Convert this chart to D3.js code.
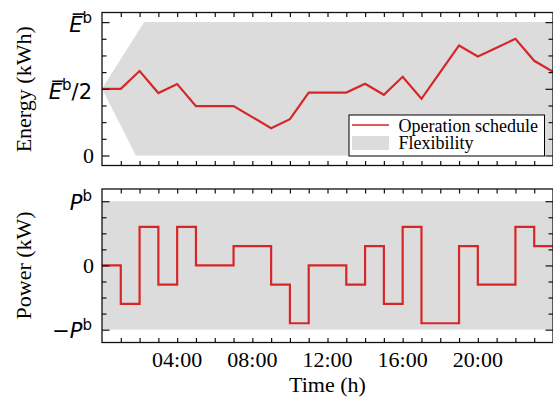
<!DOCTYPE html>
<html>
<head>
<meta charset="utf-8">
<script src="https://cdn.jsdelivr.net/npm/d3@7/dist/d3.min.js"></script>
<style>
  html, body { margin: 0; padding: 0; background: #fff; }
  svg { display: block; }
  .serif { font-family: "Liberation Serif", "Times New Roman", serif; }
  .math { font-family: "DejaVu Sans", sans-serif; }
</style>
</head>
<body>
<svg id="chart" width="553" height="401"></svg>
<script>
// Hourly time grid (h)
const hours = d3.range(0, 25);

// State of energy, as a fraction of the battery capacity E^b, at each hour
const energy = [0.5, 0.5, 0.633, 0.468, 0.535, 0.37, 0.37, 0.37, 0.288, 0.205,
                0.272, 0.472, 0.472, 0.472, 0.538, 0.455, 0.59, 0.425, 0.625, 0.825,
                0.742, 0.808, 0.875, 0.71, 0.628];

// Charging power, as a fraction of the rated power P^b, held over each hour
const power = [0, -0.6, 0.6, -0.3, 0.6, 0, 0, 0.3, 0.3, -0.3,
               -0.9, 0, 0, -0.3, 0.3, -0.6, 0.6, -0.9, -0.9, 0.3,
               -0.3, -0.3, 0.6, 0.3];

// Reachable energy envelope (upper and lower bounds) starting from half charge
const flexUpperT = [0, 2.25, 24];
const flexUpperE = [0.5, 1, 1];
const flexLowerT = [0, 1.8, 24];
const flexLowerE = [0.5, 0, 0];

// Power envelope
const powerBand = [-1, 1];

// Tick labels
const xTickHours = [4, 8, 12, 16, 20];
const xTickLabels = ["04:00", "08:00", "12:00", "16:00", "20:00"];

const RED = "#d62728";
const GREY = "#dcdcdc";

const svg = d3.select("#chart");

const left = 102, right = 553;
const topP = { y0: 12.5, y1: 165.5 };
const botP = { y0: 189, y1: 342.5 };

const x = d3.scaleLinear().domain([0, 24]).range([left, right]);
const yE = d3.scaleLinear().domain([-0.075, 1.072]).range([topP.y1, topP.y0]);
const yP = d3.scaleLinear().domain([-1.2, 1.19]).range([botP.y1, botP.y0]);

// ---------- Energy panel ----------
const gE = svg.append("g");

// flexibility polygon: upper bound left to right, then lower bound right to left
const flexPoly = flexUpperT.map((t, i) => [x(t), yE(flexUpperE[i])])
  .concat(flexLowerT.map((t, i) => [x(t), yE(flexLowerE[i])]).reverse());
gE.append("path")
  .attr("d", "M" + flexPoly.map(p => p.join(",")).join("L") + "Z")
  .attr("fill", GREY);

gE.append("path")
  .datum(hours)
  .attr("fill", "none")
  .attr("stroke", RED)
  .attr("stroke-width", 2.2)
  .attr("stroke-linejoin", "miter")
  .attr("d", d3.line().x(h => x(h)).y(h => yE(energy[h])));

// ---------- Power panel ----------
const gP = svg.append("g");

gP.append("rect")
  .attr("x", x(0)).attr("width", x(24) - x(0))
  .attr("y", yP(powerBand[1])).attr("height", yP(powerBand[0]) - yP(powerBand[1]))
  .attr("fill", GREY);

gP.append("path")
  .datum(hours)
  .attr("fill", "none")
  .attr("stroke", RED)
  .attr("stroke-width", 2.2)
  .attr("d", d3.line().curve(d3.curveStepAfter)
    .x(h => x(h)).y(h => yP(power[Math.min(h, power.length - 1)])));

// ---------- Frames and ticks ----------
function frame(y0, y1, yScale, majorVals, minorVals) {
  const g = svg.append("g");
  const xAxisTop = d3.axisTop(x).tickValues(hours.slice(1, 24)).tickSize(-4.5).tickFormat("");
  const xAxisBot = d3.axisBottom(x).tickValues(hours.slice(1, 24)).tickSize(-4.5).tickFormat("");
  g.append("g").attr("transform", `translate(0,${y0})`).call(xAxisTop);
  g.append("g").attr("transform", `translate(0,${y1})`).call(xAxisBot);
  g.append("g").attr("transform", `translate(${left},0)`)
    .call(d3.axisLeft(yScale).tickValues(minorVals).tickSize(-4.5).tickFormat(""));
  g.append("g").attr("transform", `translate(${left},0)`)
    .call(d3.axisLeft(yScale).tickValues(majorVals).tickSize(-7.5).tickFormat(""));
  g.append("g").attr("transform", `translate(${right},0)`)
    .call(d3.axisRight(yScale).tickValues(minorVals).tickSize(-4.5).tickFormat(""));
  g.append("g").attr("transform", `translate(${right},0)`)
    .call(d3.axisRight(yScale).tickValues(majorVals).tickSize(-7.5).tickFormat(""));
  g.selectAll(".domain").remove();
  g.selectAll(".tick line").attr("stroke", "#111").attr("stroke-width", 1.2);
  g.append("rect")
    .attr("x", left).attr("y", y0).attr("width", right - left).attr("height", y1 - y0)
    .attr("fill", "none").attr("stroke", "#111").attr("stroke-width", 1.3);
}

frame(topP.y0, topP.y1, yE, [0, 0.5, 1], [0.125, 0.25, 0.375, 0.625, 0.75, 0.875]);
frame(botP.y0, botP.y1, yP, [-1, 0, 1], [-0.75, -0.5, -0.25, 0.25, 0.5, 0.75]);

// ---------- Tick labels ----------
const labelX = 92;

// italic symbol with superscript "b", optional prefix/suffix and overline
function mathLabel(yBase, prefix, letter, overline, suffix) {
  const t = svg.append("text").attr("class", "math")
    .attr("x", labelX).attr("y", yBase)
    .attr("text-anchor", "end").attr("font-size", 21).attr("fill", "#000");
  if (prefix) t.append("tspan").text(prefix);
  const L = t.append("tspan").attr("font-style", "italic").text(letter);
  t.append("tspan").attr("font-size", 15).attr("dy", -8.5).text("b");
  if (suffix) t.append("tspan").attr("dy", 8.5).text(suffix);
  if (overline) {
    const box = L.node().getExtentOfChar(0);
    svg.append("line")
      .attr("x1", box.x + 3.5).attr("x2", box.x + box.width + 1.5)
      .attr("y1", box.y + 1.5).attr("y2", box.y + 1.5)
      .attr("stroke", "#000").attr("stroke-width", 1.6);
  }
  return t;
}

mathLabel(yE(1) + 9.5, null, "E", true, null);
mathLabel(yE(0.5) + 10, null, "E", true, "/2");
svg.append("text").attr("class", "serif")
  .attr("x", labelX + 2).attr("y", yE(0) + 7.5)
  .attr("text-anchor", "end").attr("font-size", 22).text("0");

mathLabel(yP(1) + 8.5, null, "P", false, null);
svg.append("text").attr("class", "serif")
  .attr("x", labelX + 2).attr("y", yP(0) + 7.5)
  .attr("text-anchor", "end").attr("font-size", 22).text("0");
mathLabel(yP(-1) + 8.5, "\u2212", "P", false, null);

// x tick labels
svg.selectAll("text.xt").data(xTickHours).enter().append("text")
  .attr("class", "serif xt")
  .attr("x", h => x(h)).attr("y", 366.5)
  .attr("text-anchor", "middle").attr("font-size", 22)
  .text((h, i) => xTickLabels[i]);

// ---------- Axis titles ----------
svg.append("text").attr("class", "serif")
  .attr("transform", `translate(31,${(yE(1) + yE(0)) / 2 + 0.5}) rotate(-90)`)
  .attr("text-anchor", "middle").attr("font-size", 22).text("Energy (kWh)");
svg.append("text").attr("class", "serif")
  .attr("transform", `translate(31,${(yP(1) + yP(-1)) / 2}) rotate(-90)`)
  .attr("text-anchor", "middle").attr("font-size", 22).text("Power (kW)");
svg.append("text").attr("class", "serif")
  .attr("x", (left + right) / 2).attr("y", 391.5)
  .attr("text-anchor", "middle").attr("font-size", 22).text("Time (h)");

// ---------- Legend ----------
const lg = svg.append("g");
lg.append("rect").attr("x", 349).attr("y", 115).attr("width", 195.5).attr("height", 41)
  .attr("fill", "#fff").attr("stroke", "#000").attr("stroke-width", 1);
lg.append("line").attr("x1", 352).attr("x2", 389).attr("y1", 125).attr("y2", 125)
  .attr("stroke", RED).attr("stroke-width", 1.3);
lg.append("rect").attr("x", 352).attr("y", 136).attr("width", 37).attr("height", 14)
  .attr("fill", GREY);
lg.append("text").attr("class", "serif").attr("x", 398.5).attr("y", 131.5)
  .attr("font-size", 18).text("Operation schedule");
lg.append("text").attr("class", "serif").attr("x", 398.5).attr("y", 149)
  .attr("font-size", 18).text("Flexibility");
</script>
</body>
</html>
